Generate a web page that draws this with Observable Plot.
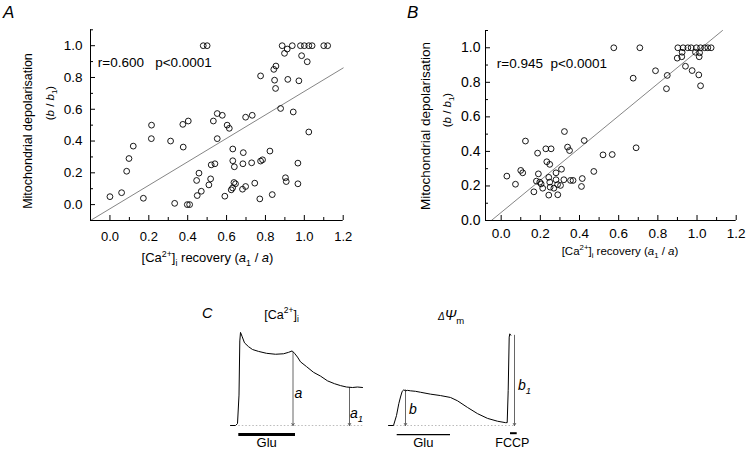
<!DOCTYPE html>
<html><head><meta charset="utf-8">
<script src="https://cdn.jsdelivr.net/npm/d3@7"></script>
<script src="https://cdn.jsdelivr.net/npm/@observablehq/plot@0.6"></script>
<style>
body{margin:0;background:#fff;}
#fig{position:relative;width:750px;height:450px;overflow:hidden;background:#fff;font-family:"Liberation Sans",Arial,sans-serif;}
</style></head><body><div id="fig"></div>
<script>
// ---------- Panel A data ----------
const xA = [0.00,0.06,0.086,0.098,0.12,0.172,0.213,0.214,0.312,0.333,0.377,0.375,0.403,0.398,0.41,0.48,0.50,
  0.446,0.458,0.449,0.47,0.509,0.518,0.521,0.54,0.532,0.552,0.578,0.552,0.603,0.614,0.591,0.632,0.632,0.64,
  0.638,0.646,0.631,0.624,0.686,0.684,0.698,0.682,0.698,0.732,0.729,0.745,0.775,0.785,0.771,0.775,0.823,0.835,
  0.843,0.854,0.847,0.852,0.878,0.903,0.907,0.915,0.898,0.912,0.943,0.967,0.967,0.972,0.986,1.015,1.023,
  0.886,0.938,0.98,1.0,1.023,1.04,1.10,1.12];
const yA = [0.05,0.075,0.21,0.29,0.368,0.04,0.415,0.50,0.40,0.008,0.362,0.505,0.526,0.0,0.0,1.0,1.0,
  0.152,0.198,0.057,0.084,0.124,0.162,0.25,0.257,0.526,0.573,0.562,0.415,0.50,0.48,0.053,0.35,0.276,0.238,
  0.139,0.131,0.105,0.093,0.327,0.257,0.114,0.097,0.55,0.562,0.263,0.135,0.274,0.282,0.036,0.81,0.337,0.063,
  0.851,0.872,0.783,0.731,0.605,0.169,0.145,0.788,0.952,0.979,0.583,0.261,0.131,0.779,0.937,0.899,0.457,
  1.0,1.0,1.0,1.0,1.0,1.0,1.0,1.0];
const fitAx = [-0.1, 1.2];
const fitAy = [-0.1, 0.86];
const statsA = "r=0.600   p<0.0001";

// ---------- Panel B data ----------
const xB = [0.029,0.073,0.10,0.11,0.124,0.167,0.186,0.19,0.18,0.197,0.204,0.212,0.228,0.255,0.233,0.248,0.243,
  0.248,0.25,0.243,0.28,0.28,0.288,0.269,0.308,0.303,0.289,0.32,0.323,0.339,0.349,0.354,0.367,0.414,0.41,0.424,
  0.473,0.52,0.567,0.575,0.708,0.674,0.689,0.788,0.848,0.844,0.899,0.922,0.924,0.941,0.975,0.992,1.013,1.011,
  1.009,1.018,0.902,0.929,0.953,0.970,0.997,1.018,1.039,1.055,1.072];
const yB = [0.257,0.21,0.29,0.276,0.46,0.166,0.39,0.27,0.228,0.222,0.212,0.187,0.415,0.415,0.34,0.325,0.25,
  0.222,0.193,0.147,0.276,0.236,0.208,0.187,0.297,0.203,0.149,0.236,0.515,0.425,0.405,0.232,0.232,0.243,0.197,0.463,
  0.284,0.38,0.382,1.0,1.0,0.824,0.421,0.867,0.84,0.763,0.94,0.948,0.974,0.893,0.868,0.974,0.971,0.948,
  0.843,0.78,1.0,1.0,1.0,1.0,1.0,1.0,1.0,1.0,1.0];
const fitBx = [-0.05, 1.13];
const fitBy = [0, 1.10];
const statsB = "r=0.945  p<0.0001";

// ---------- ticks ----------
const xTicks = [0,0.2,0.4,0.6,0.8,1.0,1.2];
const yTicks = [0,0.2,0.4,0.6,0.8,1.0];
const xMinorA = [-0.1,0.1,0.3,0.5,0.7,0.9,1.1];
const yMinorA = [-0.1,0.1,0.3,0.5,0.7,0.9,1.1];
const xMinorB = [0.1,0.3,0.5,0.7,0.9,1.1];
const yMinorB = [0.1,0.3,0.5,0.7,0.9,1.1];

// ---------- Panel C data (schematic traces) ----------
const caT = [2,7,9,10.5,11.3,12,13.5,16,20,24,30,38,47,55,60,63.7,66,69,72,78,85,92,99,106,112,118,124,129,134];
const caS = [0,0,0.02,0.32,0.89,0.98,0.94,0.87,0.83,0.80,0.78,0.76,0.75,0.755,0.77,0.785,0.76,0.72,0.67,0.62,0.56,0.52,0.47,0.44,0.42,0.405,0.40,0.405,0.40];
const psiT = [3,8,11,13.3,15,16.7,18.3,20,22,25,30,35,45,55,65,72,82,92,102,112,120,121.7,122.7,123.7,124.3,125.3];
const psiS = [0,0,0.105,0.23,0.30,0.36,0.375,0.365,0.37,0.365,0.36,0.35,0.33,0.315,0.295,0.26,0.19,0.125,0.075,0.045,0.03,0.03,0.37,0.93,0.965,0.95];
const caArrowT = [64.5, 121];      // a, a1
const caArrowS = [0.77, 0.40];
const psiArrowT = [20, 129];       // b, b1
const psiArrowS = [0.375, 0.95];
const gluL = {t1: 10.3, t2: 67, s: -0.095};
const gluR = {t1: 11.7, t2: 65, s: -0.095};
const fccp = {t1: 125, t2: 131.7, s: -0.081};
const baseL = [10.3, 135.3];
const baseR = [8, 130];

// ---------- helpers ----------
const FONT = '"Liberation Sans", Arial, Helvetica, sans-serif';
const fig = document.getElementById("fig");
function mount(svg, left, top) {
  svg.style.position = "absolute";
  svg.style.left = left + "px";
  svg.style.top = top + "px";
  svg.style.overflow = "visible";
  svg.style.background = "transparent";
  fig.appendChild(svg);
  return svg;
}
function addText(svg, x, y, parts, o = {}) {
  const size = o.size || 12;
  const t = d3.select(svg).append("text")
    .attr("x", x).attr("y", y)
    .attr("fill", "black")
    .attr("font-family", FONT)
    .attr("font-size", size)
    .attr("text-anchor", o.anchor || "start");
  if (o.rotate) t.attr("transform", `rotate(${o.rotate} ${x} ${y})`);
  if (o.italic) t.attr("font-style", "italic");
  let cur = 0;
  for (const p of (typeof parts === "string" ? [{t: parts}] : parts)) {
    const small = p.sub || p.sup;
    const fs = p.size || (small ? size * 0.68 : size);
    const off = p.sub ? size * 0.3 : p.sup ? -size * 0.42 : 0;
    const ts = t.append("tspan").attr("font-size", fs).text(p.t);
    if (off !== cur) { ts.attr("dy", off - cur); cur = off; }
    if (p.i) ts.attr("font-style", "italic");
  }
  return t;
}
const fmt = d3.format(".1f");
function scatter(c) {
  const pts = c.xs.map((x, i) => ({x, y: c.ys[i]}));
  const fit = c.fitX.map((x, i) => ({x, y: c.fitY[i]}));
  const iw = c.W - c.mL - c.mR, ih = c.H - c.mT - c.mB;
  return Plot.plot({
    width: c.W, height: c.H, marginLeft: c.mL, marginRight: c.mR, marginTop: c.mT, marginBottom: c.mB,
    x: {domain: c.xDom}, y: {domain: c.yDom},
    style: {background: "transparent", fontFamily: FONT, color: "black", overflow: "visible"},
    marks: [
      Plot.line(fit, {x: "x", y: "y", stroke: "#666", strokeWidth: 0.8}),
      Plot.dot(pts, {x: "x", y: "y", r: 2.9, stroke: "black", strokeWidth: 0.9, fill: "none"}),
      Plot.tickX(c.xMinor, {x: d => d, insetTop: ih - 3, stroke: "black"}),
      Plot.tickX(xTicks, {x: d => d, insetTop: ih - 5, stroke: "black"}),
      Plot.tickY(c.yMinor, {y: d => d, insetRight: iw - 3, stroke: "black"}),
      Plot.tickY(yTicks, {y: d => d, insetRight: iw - 5, stroke: "black"}),
      Plot.ruleX([c.xDom[0]], {stroke: "black"}),
      Plot.ruleY([c.yDom[0]], {stroke: "black"}),
      Plot.axisX(xTicks, {tickSize: 0, tickPadding: c.xPad, tickFormat: fmt, fontSize: c.xFont, label: null}),
      Plot.axisY(yTicks, {tickSize: 0, tickPadding: c.yPad, tickFormat: fmt, fontSize: c.yFont, label: null})
    ]
  });
}

// ---------- Panel A ----------
const pA = mount(scatter({W: 370, H: 290, mL: 90, mR: 27.3, mT: 29.3, mB: 70,
  xDom: [-0.1, 1.2], yDom: [-0.1, 1.1], xs: xA, ys: yA, fitX: fitAx, fitY: fitAy,
  xMinor: xMinorA, yMinor: yMinorA, xFont: 13, yFont: 13.5, xPad: 11, yPad: 8}), 0, 0);
{
  const sx = pA.scale("x"), sy = pA.scale("y");
  addText(pA, 3, 18, "A", {size: 17, italic: true});
  addText(pA, 32, 131, "Mitochondrial depolarisation", {size: 12.5, rotate: -90, anchor: "middle"});
  addText(pA, 54, 103, [{t: "("}, {t: "b", i: true}, {t: " / "}, {t: "b", i: true}, {t: "1", sub: true}, {t: ")"}],
    {size: 11.5, rotate: -90, anchor: "middle"});
  addText(pA, 207.5, 262, [{t: "[Ca"}, {t: "2+", sup: true}, {t: "]"}, {t: "i", sub: true}, {t: " recovery ("},
    {t: "a", i: true}, {t: "1", sub: true}, {t: " / "}, {t: "a", i: true}, {t: ")"}], {size: 13, anchor: "middle"});
  addText(pA, sx.apply(-0.06), sy.apply(0.86), statsA, {size: 13.5});
}

// ---------- Panel B ----------
const pB = mount(scatter({W: 380, H: 290, mL: 115, mR: 14.3, mT: 30, mB: 70,
  xDom: [-0.08, 1.2], yDom: [0, 1.1], xs: xB, ys: yB, fitX: fitBx, fitY: fitBy,
  xMinor: xMinorB, yMinor: yMinorB, xFont: 13.5, yFont: 14, xPad: 8, yPad: 5}), 370, 0);
{
  const sx = pB.scale("x"), sy = pB.scale("y");
  addText(pB, 37, 18, "B", {size: 17, italic: true});
  addText(pB, 60, 126, "Mitochondrial depolarisation", {size: 13.5, rotate: -90, anchor: "middle"});
  addText(pB, 81, 110, [{t: "("}, {t: "b", i: true}, {t: " / "}, {t: "b", i: true}, {t: "1", sub: true}, {t: ")"}],
    {size: 11.5, rotate: -90, anchor: "middle"});
  addText(pB, 250, 255, [{t: "[Ca"}, {t: "2+", sup: true}, {t: "]"}, {t: "i", sub: true}, {t: " recovery ("},
    {t: "a", i: true}, {t: "1", sub: true}, {t: " / "}, {t: "a", i: true}, {t: ")"}], {size: 11.5, anchor: "middle"});
  addText(pB, sx.apply(-0.02), sy.apply(0.878), statsB, {size: 13.5});
}

// ---------- Panel C ----------
function tracePlot(c) {
  const line = c.T.map((t, i) => ({t, s: c.S[i]}));
  const arrows = c.aT.map((t, i) => ({t, s: c.aS[i]}));
  return Plot.plot({
    width: c.W, height: 160, marginLeft: c.mL, marginRight: c.mR, marginTop: 40, marginBottom: 25,
    x: {domain: [0, c.tMax], axis: null}, y: {domain: [0, 1], axis: null},
    style: {background: "transparent", fontFamily: FONT, color: "black", overflow: "visible"},
    marks: [
      Plot.ruleY([0], {x1: c.base[0], x2: c.base[1], stroke: "#aaa", strokeDasharray: "1.5,2", strokeWidth: 0.8}),
      Plot.arrow(arrows, {x1: "t", y1: "s", x2: "t", y2: () => 0, headLength: 4, stroke: "#555", strokeWidth: 0.9}),
      Plot.line(line, {x: "t", y: "s", stroke: "black", strokeWidth: 1}),
      ...c.bars.map(b => Plot.ruleY([b.s], {x1: b.t1, x2: b.t2, stroke: "black", strokeWidth: b.w}))
    ]
  });
}
const pCL = mount(tracePlot({W: 170, mL: 28, mR: 5, tMax: 137, T: caT, S: caS, aT: caArrowT, aS: caArrowS,
  base: baseL, bars: [{...gluL, w: 3}]}), 200, 290);
{
  const sx = pCL.scale("x");
  addText(pCL, 2, 28, "C", {size: 14.5, italic: true});
  addText(pCL, 81.5, 28.5, [{t: "[Ca"}, {t: "2+", sup: true}, {t: "]"}, {t: "i", sub: true}], {size: 12.5, anchor: "middle"});
  addText(pCL, sx.apply(caArrowT[0]) + 2, 107.5, "a", {size: 14, italic: true});
  addText(pCL, sx.apply(caArrowT[1]) + 1, 127.5, [{t: "a"}, {t: "1", sub: true}], {size: 14, italic: true});
  addText(pCL, sx.apply((gluL.t1 + gluL.t2) / 2), 156.5, "Glu", {size: 13, anchor: "middle"});
}
const pCR = mount(tracePlot({W: 160, mL: 15, mR: 10, tMax: 135, T: psiT, S: psiS, aT: psiArrowT, aS: psiArrowS,
  base: baseR, bars: [{...gluR, w: 1.2}, {...fccp, w: 2}]}), 370, 290);
{
  const sx = pCR.scale("x");
  addText(pCR, 68, 30, [{t: "Δ", i: true, size: 10}, {t: "Ψ", i: true, size: 14}, {t: "m", sub: true, size: 9.5}], {size: 13});
  addText(pCR, sx.apply(psiArrowT[0]) + 4, 124, "b", {size: 14, italic: true});
  addText(pCR, sx.apply(psiArrowT[1]) + 4, 100, [{t: "b"}, {t: "1", sub: true}], {size: 14, italic: true});
  addText(pCR, sx.apply((gluR.t1 + gluR.t2) / 2), 156.5, "Glu", {size: 13, anchor: "middle"});
  addText(pCR, sx.apply((fccp.t1 + fccp.t2) / 2) - 1, 156.5, "FCCP", {size: 12.5, anchor: "middle"});
}
</script></body></html>
